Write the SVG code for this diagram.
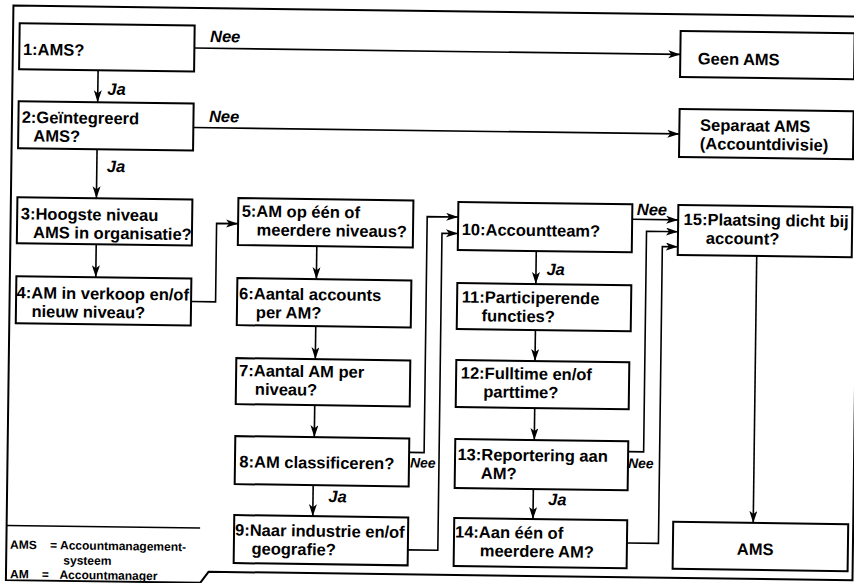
<svg xmlns="http://www.w3.org/2000/svg" width="854" height="583" viewBox="0 0 854 583">
  <defs>
    <marker id="arrow" markerUnits="userSpaceOnUse" markerWidth="14" markerHeight="10" refX="12" refY="4" orient="auto">
      <path d="M0,0 L12,4 L0,8 L3,4 Z" fill="#000"/>
    </marker>
    <style>
      .frame{fill:none;stroke:#000;stroke-width:2}
      .box{fill:#fff;stroke:#000;stroke-width:2}
      .wire{fill:none;stroke:#000;stroke-width:1.6;marker-end:url(#arrow)}
      .rule{fill:none;stroke:#000;stroke-width:1.6}
      text{font-family:"Liberation Sans",Arial,Helvetica,sans-serif;font-weight:bold;fill:#000}
      .lbl{font-size:16.5px}
      .yn{font-size:16.5px;font-style:italic}
      .yn-s{font-size:14px;font-style:italic}
      .leg{font-size:12px}
    </style>
  </defs>
  <rect width="854" height="583" fill="#fff"/>
  <g transform="rotate(0.75)">
    <!-- outer frame -->
    <path class="frame" d="M860,5.3 H13.5 V580 H208 L216,569 H860 Z"/>

    <g id="connectors">
      <path class="wire" d="M195,45.5 H681"/>
      <path class="wire" d="M195,125 H681"/>
      <path class="wire" d="M99,69 V101"/>
      <path class="wire" d="M99,148 V197"/>
      <path class="wire" d="M99.4,243 V276"/>
      <path class="wire" d="M195,299 H219.5 V220.5 H241"/>
      <path class="wire" d="M320,242 V275"/>
      <path class="wire" d="M320,322 V355"/>
      <path class="wire" d="M320,401 V433"/>
      <path class="wire" d="M319.5,481 V512"/>
      <path class="wire" d="M415,447 H430 V211 H461"/>
      <path class="wire" d="M415,544.5 H445 V227.5 H461"/>
      <path class="wire" d="M539.5,244 V277"/>
      <path class="wire" d="M539.7,323 V354"/>
      <path class="wire" d="M540,401 V433"/>
      <path class="wire" d="M539.7,482 V512"/>
      <path class="wire" d="M635,211 H681"/>
      <path class="wire" d="M634,443.4 H649.5 V222.8 H681"/>
      <path class="wire" d="M634,534.7 H665.5 V237.8 H681"/>
      <path class="wire" d="M760,246 V513"/>

      <text class="yn" x="210.5" y="39.2">Nee</text>
      <text class="yn" x="210.5" y="119.2">Nee</text>
      <text class="yn" x="108.5" y="93.3">Ja</text>
      <text class="yn" x="109" y="170.5">Ja</text>
      <text class="yn-s" x="416" y="462">Nee</text>
      <text class="yn" x="334.8" y="497.7">Ja</text>
      <text class="yn" x="550" y="267.8">Ja</text>
      <text class="yn" x="639.5" y="206.7">Nee</text>
      <text class="yn-s" x="634" y="459.7">Nee</text>
      <text class="yn" x="554.6" y="497.8">Ja</text>
    </g>

    <g id="n1">
      <rect class="box" x="20" y="23" width="175" height="46"/>
      <text class="lbl" x="23.6" y="54.7">1:AMS?</text>
    </g>
    <g id="n2">
      <rect class="box" x="20" y="101" width="175" height="47"/>
      <text class="lbl" x="23.3" y="122.5">2:Geïntegreerd</text>
      <text class="lbl" x="35.2" y="141">AMS?</text>
    </g>
    <g id="n3">
      <rect class="box" x="20" y="197" width="175" height="46"/>
      <text class="lbl" x="23.6" y="219">3:Hoogste niveau</text>
      <text class="lbl" x="36.2" y="237.5">AMS in organisatie?</text>
    </g>
    <g id="n4">
      <rect class="box" x="20" y="276" width="175" height="47"/>
      <text class="lbl" x="20.5" y="298">4:AM in verkoop en/of</text>
      <text class="lbl" x="35.6" y="316.5">nieuw niveau?</text>
    </g>
    <g id="n5">
      <rect class="box" x="241" y="195" width="175" height="47"/>
      <text class="lbl" x="244.5" y="213.5">5:AM op één of</text>
      <text class="lbl" x="259.6" y="232">meerdere niveaus?</text>
    </g>
    <g id="n6">
      <rect class="box" x="241" y="275" width="174" height="47"/>
      <text class="lbl" x="243" y="296">6:Aantal accounts</text>
      <text class="lbl" x="260" y="314.5">per AM?</text>
    </g>
    <g id="n7">
      <rect class="box" x="241" y="355" width="174" height="46"/>
      <text class="lbl" x="244" y="373">7:Aantal AM per</text>
      <text class="lbl" x="260" y="391.5">niveau?</text>
    </g>
    <g id="n8">
      <rect class="box" x="241" y="433" width="174" height="48"/>
      <text class="lbl" x="245.4" y="464.2">8:AM classificeren?</text>
    </g>
    <g id="n9">
      <rect class="box" x="241" y="512" width="174" height="48"/>
      <text class="lbl" x="242" y="532.5">9:Naar industrie en/of</text>
      <text class="lbl" x="258.7" y="551">geografie?</text>
    </g>
    <g id="n10">
      <rect class="box" x="461" y="196" width="174" height="48"/>
      <text class="lbl" x="464.7" y="229">10:Accountteam?</text>
    </g>
    <g id="n11">
      <rect class="box" x="461" y="277" width="174" height="46"/>
      <text class="lbl" x="465.7" y="296.5">11:Participerende</text>
      <text class="lbl" x="485.7" y="315">functies?</text>
    </g>
    <g id="n12">
      <rect class="box" x="461" y="354" width="173" height="47"/>
      <text class="lbl" x="465.7" y="372.5">12:Fulltime en/of</text>
      <text class="lbl" x="488.3" y="391">parttime?</text>
    </g>
    <g id="n13">
      <rect class="box" x="461" y="433" width="173" height="49"/>
      <text class="lbl" x="463.4" y="454">13:Reportering aan</text>
      <text class="lbl" x="487" y="472.5">AM?</text>
    </g>
    <g id="n14">
      <rect class="box" x="461" y="512" width="173" height="48"/>
      <text class="lbl" x="462" y="531.5">14:Aan één of</text>
      <text class="lbl" x="487" y="550">meerdere AM?</text>
    </g>
    <g id="n15">
      <rect class="box" x="681" y="196" width="174" height="50"/>
      <text class="lbl" x="686.5" y="216">15:Plaatsing dicht bij</text>
      <text class="lbl" x="709" y="234.5">account?</text>
    </g>
    <g id="geen-ams">
      <rect class="box" x="681" y="22" width="174" height="46"/>
      <text class="lbl" x="698.5" y="55.2">Geen AMS</text>
    </g>
    <g id="separaat-ams">
      <rect class="box" x="681" y="100" width="174" height="48"/>
      <text class="lbl" x="701.7" y="121.5">Separaat AMS</text>
      <text class="lbl" x="701.7" y="140">(Accountdivisie)</text>
    </g>
    <g id="ams">
      <rect class="box" x="680" y="513" width="175" height="47"/>
      <text class="lbl" x="744" y="545">AMS</text>
    </g>

    <g id="legend">
      <path class="rule" d="M13.5,525.4 H207"/>
      <text class="leg" x="17.2" y="548.5">AMS</text>
      <text class="leg" x="57.2" y="548.5">=</text>
      <text class="leg" x="67.2" y="548.5">Accountmanagement-</text>
      <text class="leg" x="70.7" y="563.5">systeem</text>
      <text class="leg" x="17.6" y="578">AM</text>
      <text class="leg" x="49.3" y="578">=</text>
      <text class="leg" x="67" y="578">Accountmanager</text>
    </g>
  </g>
</svg>
